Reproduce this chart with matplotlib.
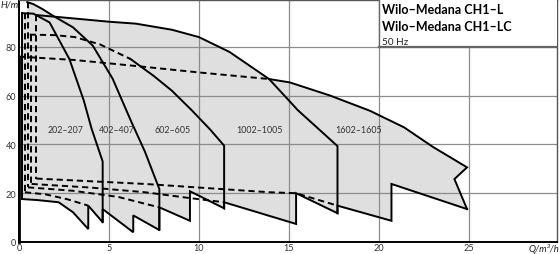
import matplotlib
matplotlib.use("Agg")
import matplotlib.pyplot as plt

# ---------------- data ----------------
# solid top curves (max stages)
q202_top = [0.18, 0.8, 1.7, 2.8, 3.6, 4.04, 4.65]
h202_top = [93.8, 93.6, 90.0, 75.0, 58.0, 46.3, 33.0]
q402_top = [0.46, 0.8, 1.3, 1.9, 3.0, 4.1, 5.2, 6.2, 7.0, 7.8]
h402_top = [98.3, 97.5, 95.5, 92.7, 88.0, 80.5, 67.0, 50.0, 37.0, 21.7]
q602_top_d = [0.6, 2.0, 3.1, 4.5, 6.2]
h602_top_d = [85.0, 84.8, 84.0, 81.0, 75.0]
q602_top = [6.2, 7.5, 8.5, 9.6, 10.6, 11.4]
h602_top = [75.0, 68.0, 62.0, 54.0, 46.3, 39.5]
q1002_top = [1.0, 3.1, 5.0, 6.5, 8.5, 10.0, 11.7, 13.9, 15.5, 16.7, 17.7]
h1002_top = [93.0, 91.6, 90.3, 89.5, 87.0, 84.0, 77.9, 66.8, 54.0, 46.0, 39.3]
q1602_top_d = [0.0, 3.1, 6.7, 10.0, 13.9]
h1602_top_d = [76.0, 74.6, 72.0, 69.5, 66.8]
q1602_top = [13.9, 15.06, 17.3, 19.5, 21.4, 23.0, 24.9, 24.2, 24.9]
h1602_top = [66.8, 65.4, 60.0, 53.8, 47.0, 39.0, 30.6, 25.8, 13.5]

# lower edge of the field (min stages, saw-tooth), right to left
q_low = [24.9, 20.7, 20.7, 17.7, 17.7, 15.4, 15.4, 11.4, 11.4, 9.5, 9.5, 7.8, 7.8,
         6.35, 6.35, 4.65, 4.65, 3.85, 3.85, 3.0, 2.2, 1.0, 0.18]
h_low = [13.5, 23.8, 8.7, 14.9, 11.8, 20.0, 7.4, 16.3, 13.8, 20.8, 8.7, 14.2, 4.9,
         10.9, 4.0, 13.5, 8.1, 14.9, 5.3, 12.2, 16.3, 17.2, 17.6]

# dashed inner lower curves
qd_a = [0.33, 1.5, 2.7, 3.85]
hd_a = [20.4, 19.5, 17.5, 14.9]
qd_b = [0.5, 3.0, 5.5, 7.8]
hd_b = [22.4, 21.0, 18.5, 14.2]
qd_c = [0.7, 4.0, 7.0, 9.5, 11.4]
hd_c = [23.8, 22.3, 20.4, 18.0, 16.3]
qd_d = [0.97, 7.0, 13.9, 15.4, 17.7]
hd_d = [26.0, 23.8, 20.4, 20.0, 14.9]

# dashed left edges (Q, top H, bottom H)
left_q = [0.33, 0.5, 0.65, 0.97]
left_top = [93.8, 98.3, 85.0, 93.0]
left_bot = [20.4, 22.4, 23.8, 26.0]

series_labels = ["202–207", "402–407", "602–605", "1002–1005", "1602–1605"]
label_q = [2.6, 5.45, 8.55, 13.35, 18.85]
label_h = 46.3

xticks = [0, 5, 10, 15, 20, 25]
yticks = [0, 20, 40, 60, 80]
title_lines = ["Wilo–Medana CH1–L", "Wilo–Medana CH1–LC", "50 Hz"]

# ---------------- drawing ----------------
plt.rcParams['font.family'] = ['Lato', 'DejaVu Sans']
fig = plt.figure(figsize=(5.6, 2.55), dpi=100)
ax = fig.add_axes([19/560, 12/255, 538/560, 242/255])
ax.set_xlim(0, 29.9)
ax.set_ylim(0, 99.2)

GRID = '#8c8c8c'
FILL = '#dfdfdf'
LW = 1.4
DASH = (0, (3.2, 2.0))

# grey field
outline_q = (q402_top[:4] + q1002_top[2:8] + q1602_top[1:] + q_low + [0.18, 0.46])
outline_h = (h402_top[:4] + h1002_top[2:8] + h1602_top[1:] + h_low + [93.8, 93.8])
ax.fill(outline_q, outline_h, color=FILL, zorder=1, lw=0)

# grid
for x in xticks[1:]:
    ax.axvline(x, color=GRID, lw=0.9, zorder=2)
for y in yticks[1:]:
    ax.axhline(y, color=GRID, lw=0.9, zorder=2)

k = dict(color='black', lw=LW, zorder=4, solid_joinstyle='miter')
kd = dict(color='black', lw=LW, zorder=4, linestyle=DASH)

ax.plot(q202_top + [q202_top[-1]], h202_top + [8.1], **k)
ax.plot([0.18, 0.18], [93.8, 17.6], **k)
ax.plot(q402_top + [q402_top[-1]], h402_top + [4.9], **k)
ax.plot(q602_top_d, h602_top_d, **kd)
ax.plot(q602_top + [q602_top[-1]], h602_top + [13.8], **k)
ax.plot(q1002_top + [q1002_top[-1]], h1002_top + [11.8], **k)
ax.plot(q1602_top_d, h1602_top_d, **kd)
ax.plot(q1602_top, h1602_top, **k)
ax.plot(q_low, h_low, **k)
for qq, hh in [(qd_a, hd_a), (qd_b, hd_b), (qd_c, hd_c), (qd_d, hd_d)]:
    ax.plot(qq, hh, **kd)
for qv, t, b in zip(left_q, left_top, left_bot):
    ax.plot([qv, qv], [t, b], **kd)
ax.plot([0, 0], [0, 76], color='black', lw=2.0, zorder=5, clip_on=False)

for s, q in zip(series_labels, label_q):
    ax.text(q, label_h, s, fontsize=6.4, color='#333333', ha='center', va='center', zorder=6)

# title box
ax.fill([20, 29.9, 29.9, 20], [80, 80, 99.2, 99.2], color='white', zorder=7, lw=0)
ax.plot([20, 29.9], [80, 80], color='#666666', lw=1.6, zorder=8)
ax.plot([20, 20], [80, 99.2], color='#666666', lw=1.0, zorder=8)
ax.text(20.2, 93.8, title_lines[0], fontsize=9.0, fontweight='bold', va='baseline', ha='left', zorder=9)
ax.text(20.2, 87.0, title_lines[1], fontsize=9.0, fontweight='bold', va='baseline', ha='left', zorder=9)
ax.text(20.2, 81.2, title_lines[2], fontsize=7.2, va='baseline', ha='left', color='#222222', zorder=9)

# axes
ax.set_xticks(xticks)
ax.set_yticks(yticks)
ax.tick_params(axis='x', length=0, labelsize=6.6, colors='#333333', pad=0.5)
ax.tick_params(axis='y', length=0, labelsize=6.6, colors='#333333', pad=2)
for side in ['top', 'right']:
    ax.spines[side].set_color('#555555')
    ax.spines[side].set_linewidth(1.0)
for side in ['left', 'bottom']:
    ax.spines[side].set_color('black')
    ax.spines[side].set_linewidth(1.4)
fig.text(1/560, 1 - 1/255, "H/m", fontsize=6.8, style='italic', ha='left', va='top', color='#222222')
fig.text(559/560, 1/255, "Q/m³/h", fontsize=6.8, style='italic', ha='right', va='bottom', color='#222222')

fig.savefig("out.png", dpi=100)
